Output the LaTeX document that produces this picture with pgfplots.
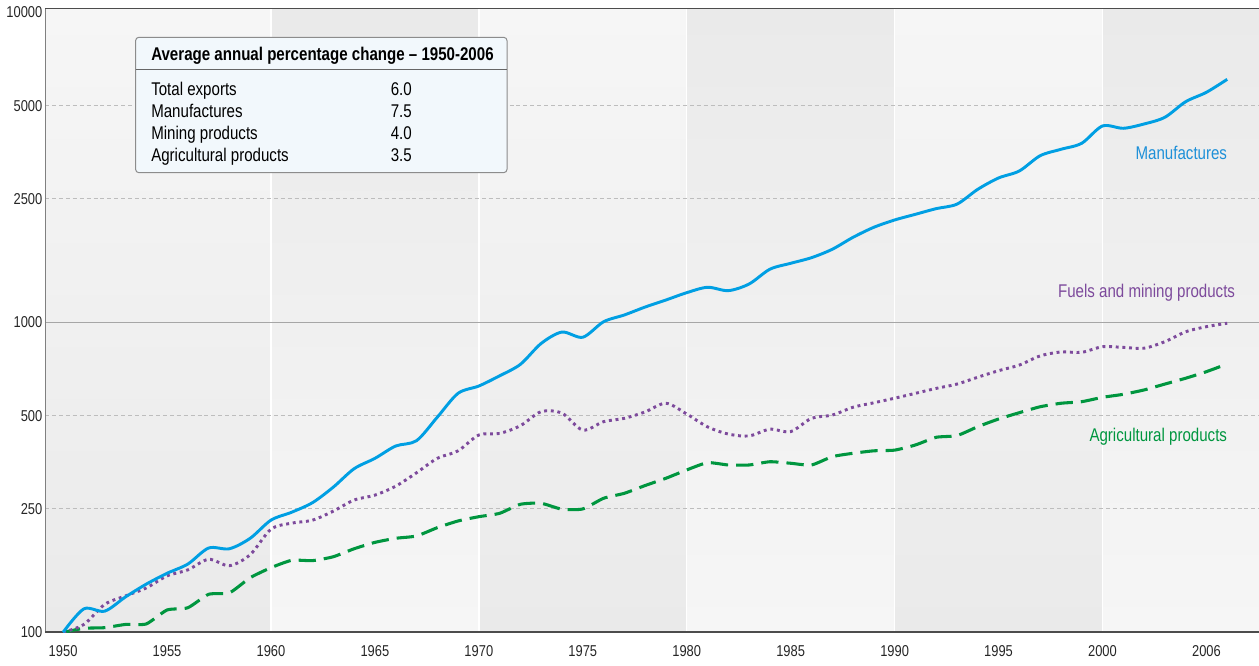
\documentclass[border=0pt]{standalone}
\usepackage{fontspec}
\setmainfont{Liberation Sans}[FakeStretch=0.82]
\usepackage{pgfplots}
\usepackage{pgfplotstable}
\pgfplotsset{compat=1.18}

\definecolor{manu}{HTML}{009FE3}
\definecolor{manulab}{HTML}{1E90D8}
\definecolor{fuel}{HTML}{7D4A9C}
\definecolor{agri}{HTML}{00963F}
\definecolor{bandL}{HTML}{F6F6F6}
\definecolor{bandD}{HTML}{EAEAEA}
\definecolor{boxfill}{HTML}{F2F8FC}
\definecolor{gridc}{HTML}{BDBDBD}

\pgfplotstableread{
year val
1950 100
1951 119
1952 117
1953 130
1954 143
1955 155
1956 166
1957 187
1958 186
1959 201
1960 230
1961 244
1962 262
1963 294
1964 337
1965 364
1966 399
1967 415
1968 494
1969 590
1970 623
1971 672
1972 732
1973 855
1974 930
1975 895
1976 1004
1977 1056
1978 1120
1979 1180
1980 1246
1981 1297
1982 1265
1983 1329
1984 1483
1985 1550
1986 1616
1987 1720
1988 1880
1989 2025
1990 2138
1991 2230
1992 2326
1993 2405
1994 2685
1995 2921
1996 3077
1997 3446
1998 3614
1999 3780
2000 4298
2001 4225
2002 4362
2003 4584
2004 5146
2005 5520
2006 6078
}\manufactures

\pgfplotstableread{
year val
1950 100
1951 106
1952 123
1953 131
1954 139
1955 152
1956 159
1957 172
1958 164
1959 178
1960 215
1961 225
1962 230
1963 246
1964 267
1965 277
1966 296
1967 327
1968 364
1969 385
1970 433
1971 438
1972 464
1973 515
1974 509
1975 449
1976 478
1977 490
1978 514
1979 548
1980 506
1981 460
1982 436
1983 430
1984 452
1985 444
1986 490
1987 502
1988 532
1989 550
1990 569
1991 590
1992 612
1993 632
1994 665
1995 698
1996 728
1997 779
1998 802
1999 800
2000 834
2001 830
2002 825
2003 866
2004 932
2005 968
2006 993
}\fuels

\pgfplotstableread{
year val
1950 100
1951 103
1952 103.5
1953 106
1954 106.4
1955 118
1956 120
1957 132.6
1958 134
1959 150
1960 161.6
1961 170.7
1962 170.3
1963 175.3
1964 186
1965 195
1966 201
1967 204.5
1968 217.5
1969 228.6
1970 236
1971 242
1972 258.8
1973 260.7
1974 249.4
1975 250
1976 270.6
1977 280.8
1978 297.5
1979 314
1980 334
1981 352.5
1982 346.5
1983 346.5
1984 355
1985 351
1986 346.5
1987 368.6
1988 378
1989 385
1990 387
1991 402
1992 425.6
1993 431
1994 460.5
1995 487.5
1996 511
1997 534
1998 548
1999 554.5
2000 572.8
2001 585.7
2002 605
2003 632
2004 660
2005 693
2006 734
}\agri

\newcommand\tickfont{\fontsize{11.8}{13}\selectfont}
\newcommand\txtfont{\fontsize{13.8}{16}\selectfont}

\begin{document}
\begin{tikzpicture}
\begin{axis}[
  scale only axis, width=910.5pt, height=468pt,
  xmin=1949.13, xmax=2007.53, ymin=100, ymax=10302, ymode=log,
  axis line style={draw=none},
  xtick={1950,1955,...,2005},
  xticklabels={1950,1955,1960,1965,1970,1975,1980,1985,1990,1995,2000,2006},
  ytick={100,250,500,1000,2500,5000,10000},
  yticklabels={100,250,500,1000,2500,5000,10000},
  major tick length=0pt, minor tick num=0,
  tick label style={font=\tickfont, text=black!85},
  xticklabel style={yshift=-6.5pt},
  yticklabel style={xshift=1.5pt},
]
% background bands
\fill[top color=bandL, bottom color=bandD] (axis cs:1949.13,100) rectangle (axis cs:1960,10302);
\fill[top color=bandD, bottom color=bandL] (axis cs:1960,100) rectangle (axis cs:1970,10302);
\fill[top color=bandL, bottom color=bandD] (axis cs:1970,100) rectangle (axis cs:1980,10302);
\fill[top color=bandD, bottom color=bandL] (axis cs:1980,100) rectangle (axis cs:1990,10302);
\fill[top color=bandL, bottom color=bandD] (axis cs:1990,100) rectangle (axis cs:2000,10302);
\fill[top color=bandD, bottom color=bandL] (axis cs:2000,100) rectangle (axis cs:2007.53,10302);
\draw[white, line width=1.1pt] (axis cs:1960,100) -- (axis cs:1960,10302);
\draw[white, line width=1.1pt] (axis cs:1970,100) -- (axis cs:1970,10302);
\draw[white, line width=1.1pt] (axis cs:1980,100) -- (axis cs:1980,10302);
\draw[white, line width=1.1pt] (axis cs:1990,100) -- (axis cs:1990,10302);
\draw[white, line width=1.1pt] (axis cs:2000,100) -- (axis cs:2000,10302);
\draw[gridc, line width=0.75pt, dash pattern=on 3pt off 2.2pt] (axis cs:1949.13,250) -- (axis cs:2007.53,250);
\draw[gridc, line width=0.75pt, dash pattern=on 3pt off 2.2pt] (axis cs:1949.13,500) -- (axis cs:2007.53,500);
\draw[gridc, line width=0.75pt, dash pattern=on 3pt off 2.2pt] (axis cs:1949.13,2500) -- (axis cs:2007.53,2500);
\draw[gridc, line width=0.75pt, dash pattern=on 3pt off 2.2pt] (axis cs:1949.13,5000) -- (axis cs:2007.53,5000);
\draw[black!35, line width=0.9pt] (axis cs:1949.13,1000) -- (axis cs:2007.53,1000);
% axis lines
\draw[black!50, line width=1.1pt] (rel axis cs:0,0) -- (rel axis cs:0,1);
\draw[black!70, line width=1.1pt] (rel axis cs:0,1) -- (rel axis cs:1,1);
\draw[black!70, line width=1.5pt] (rel axis cs:0,0) -- (rel axis cs:1,0);
% series
\addplot[agri, line width=2.3pt, smooth, tension=0.35, dash pattern=on 13pt off 6pt] table[x=year,y=val] {\agri};
\addplot[fuel, line width=2.2pt, smooth, tension=0.5, dash pattern=on 2.2pt off 2.8pt] table[x=year,y=val] {\fuels};
\addplot[manu, line width=2.2pt, smooth, tension=0.5] table[x=year,y=val] {\manufactures};
\end{axis}
\begin{scope}[shift={(current axis.north west)}, xshift=-33.75pt, yshift=6.225pt, x=0.75pt, y=-0.75pt]
\pgfresetboundingbox
\path[use as bounding box] (0,0) rectangle (1259,666);
\draw[rounded corners=2.5pt, draw=black!45, fill=boxfill, line width=0.75pt] (135.6,37.3) rectangle (507,172.7);
\draw[black!60, line width=0.75pt] (135.6,69.7) -- (507,69.7);
\node[anchor=base west, inner sep=0pt, font=\txtfont\bfseries] at (151,61) {Average annual percentage change – 1950-2006};
\node[anchor=base west, inner sep=0pt, font=\txtfont] at (151,96) {Total exports};
\node[anchor=base west, inner sep=0pt, font=\txtfont] at (151,118) {Manufactures};
\node[anchor=base west, inner sep=0pt, font=\txtfont] at (151,140) {Mining products};
\node[anchor=base west, inner sep=0pt, font=\txtfont] at (151,162) {Agricultural products};
\node[anchor=base west, inner sep=0pt, font=\txtfont] at (390.5,96) {6.0};
\node[anchor=base west, inner sep=0pt, font=\txtfont] at (390.5,118) {7.5};
\node[anchor=base west, inner sep=0pt, font=\txtfont] at (390.5,140) {4.0};
\node[anchor=base west, inner sep=0pt, font=\txtfont] at (390.5,162) {3.5};
\node[anchor=base east, inner sep=0pt, font=\txtfont, text=manulab] at (1227.3,159.3) {Manufactures};
\node[anchor=base east, inner sep=0pt, font=\txtfont, text=fuel] at (1235.3,297.7) {Fuels and mining products};
\node[anchor=base east, inner sep=0pt, font=\txtfont, text=agri] at (1227.3,441.7) {Agricultural products};
\end{scope}
\end{tikzpicture}
\end{document}
